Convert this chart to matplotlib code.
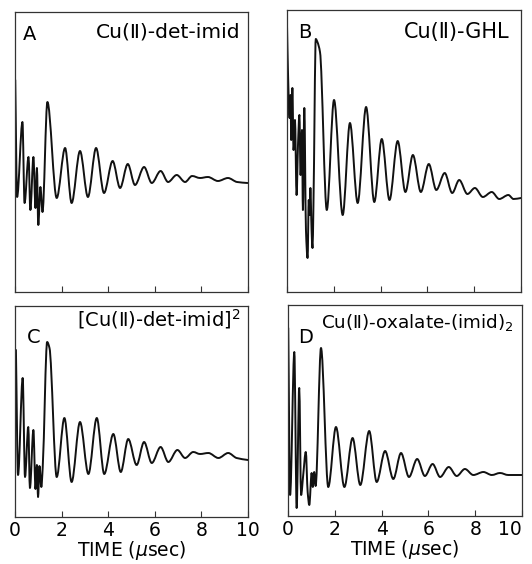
import numpy as np
import matplotlib
matplotlib.use("Agg")
import matplotlib.pyplot as plt
from matplotlib.path import Path
from matplotlib.patches import PathPatch

plt.rcParams['font.family'] = ['DejaVu Sans', 'Noto Sans CJK JP']

# ---- data (time in microseconds, echo amplitude in arbitrary units)
time_a = [0.01, 0.09, 0.32, 0.41, 0.58, 0.66, 0.79, 0.88, 0.94, 1.00, 1.09, 1.18, 1.39, 1.79,
          2.15, 2.43, 2.79, 3.13, 3.48, 3.82, 4.19, 4.51, 4.84, 5.15, 5.54, 5.87, 6.25, 6.57,
          6.94, 7.30, 7.60, 7.94, 8.28, 8.71, 9.14, 9.53, 9.98]
amp_a = [212, 95, 170, 89, 135, 82, 135, 84, 124, 67, 105, 80, 190, 94,
         144, 89, 141, 95, 144, 99, 131, 104, 128, 107, 125, 109, 121, 110,
         117, 110, 116, 114, 115, 111, 114, 110, 109]

time_b = [0.00, 0.04, 0.11, 0.15, 0.18, 0.23, 0.28, 0.34, 0.41, 0.47, 0.53, 0.58, 0.64, 0.68,
          0.74, 0.81, 0.88, 0.93, 0.96, 1.00, 1.05, 1.09, 1.13, 1.23, 1.30, 1.41, 1.70, 2.01,
          2.38, 2.69, 3.02, 3.38, 3.73, 4.05, 4.38, 4.73, 5.06, 5.38, 5.72, 6.06, 6.38, 6.74,
          7.06, 7.36, 7.71, 8.03, 8.37, 8.75, 9.07, 9.46, 9.68, 10.0]
amp_b = [267, 222, 174, 197, 152, 204, 142, 172, 97, 147, 177, 117, 162, 82,
         184, 62, 34, 92, 77, 104, 62, 44, 87, 253, 250, 240, 82, 192,
         77, 169, 89, 185, 90, 153, 92, 151, 100, 137, 100, 128, 102, 119,
         99, 112, 98, 104, 95, 100, 93, 97, 93, 94]

time_c = [0.04, 0.13, 0.33, 0.43, 0.57, 0.64, 0.79, 0.88, 0.94, 0.99, 1.05, 1.13, 1.19, 1.38,
          1.48, 1.79, 2.12, 2.43, 2.79, 3.15, 3.51, 3.83, 4.22, 4.54, 4.86, 5.22, 5.54, 5.87,
          6.25, 6.58, 6.97, 7.30, 7.65, 7.94, 8.30, 8.73, 9.15, 9.51, 10.0]
amp_c = [167, 42, 139, 40, 90, 29, 87, 28, 52, 20, 51, 30, 50, 175,
         169, 40, 99, 35, 95, 43, 99, 43, 83, 45, 78, 52, 75, 54,
         70, 55, 67, 59, 65, 63, 64, 59, 64, 59, 57]

time_d = [0.01, 0.09, 0.27, 0.37, 0.48, 0.56, 0.65, 0.76, 0.84, 0.91, 1.01, 1.06, 1.12, 1.18,
          1.41, 1.72, 2.05, 2.41, 2.76, 3.09, 3.47, 3.79, 4.15, 4.50, 4.83, 5.17, 5.52, 5.85,
          6.18, 6.50, 6.87, 7.21, 7.56, 7.92, 8.35, 8.71, 9.06, 9.41, 9.99]
amp_d = [188, 21, 164, 8, 128, 21, 41, 64, 24, 11, 43, 29, 44, 30,
         168, 29, 89, 29, 78, 31, 85, 34, 65, 37, 63, 39, 57, 40,
         52, 39, 49, 40, 47, 41, 44, 41, 43, 41, 41]

panel_letters = ["A", "B", "C", "D"]
panel_titles = ["Cu(Ⅱ)-det-imid", "Cu(Ⅱ)-GHL", "[Cu(Ⅱ)-det-imid]$^2$", "Cu(Ⅱ)-oxalate-(imid)$_2$"]
x_ticks = [0, 2, 4, 6, 8, 10]
x_tick_labels = ["0", "2", "4", "6", "8", "10"]
x_label = "TIME ($\\mu$sec)"


def smooth_path(t, s):
    """Monotone (PCHIP-style) cubic Bezier path through the read points."""
    x = np.asarray(t, float)
    y = np.asarray(s, float)
    n = len(x)
    h = np.diff(x)
    d = np.diff(y) / h
    m = np.zeros(n)
    m[0], m[-1] = d[0], d[-1]
    for i in range(1, n - 1):
        if d[i - 1] * d[i] > 0:
            w1 = 2 * h[i] + h[i - 1]
            w2 = h[i] + 2 * h[i - 1]
            m[i] = (w1 + w2) / (w1 / d[i - 1] + w2 / d[i])
        else:
            m[i] = 0.0
    verts = [(x[0], y[0])]
    codes = [Path.MOVETO]
    for i in range(n - 1):
        verts += [(x[i] + h[i] / 3, y[i] + m[i] * h[i] / 3),
                  (x[i + 1] - h[i] / 3, y[i + 1] - m[i + 1] * h[i] / 3),
                  (x[i + 1], y[i + 1])]
        codes += [Path.CURVE4] * 3
    return Path(verts, codes)


W, H = 532, 564
fig = plt.figure(figsize=(W / 100, H / 100), dpi=100)


def px_axes(x0, y0, x1, y1):
    return fig.add_axes([x0 / W, 1 - y1 / H, (x1 - x0) / W, (y1 - y0) / H])


axA = px_axes(15, 12, 248, 292)
axB = px_axes(287, 10, 521, 292)
axC = px_axes(15, 306, 248, 517)
axD = px_axes(288, 305, 522, 516)

series = [(axA, time_a, amp_a, 280), (axB, time_b, amp_b, 282),
          (axC, time_c, amp_c, 211), (axD, time_d, amp_d, 211)]

for k, (ax, t, s, ymax) in enumerate(series):
    ax.add_patch(PathPatch(smooth_path(t, s), fill=False, edgecolor="#111111",
                           lw=1.4, joinstyle="round", capstyle="round",
                           transform=ax.transData))
    ax.set_xlim(0, 10)
    ax.set_ylim(0, ymax)
    ax.set_yticks([])
    ax.set_xticks(x_ticks)
    ax.tick_params(axis="x", direction="in", length=4, width=0.8, color="#333333",
                   top=False, labelsize=13.5, pad=3)
    for sp in ax.spines.values():
        sp.set_linewidth(0.9)
        sp.set_color("#333333")
    if k < 2:
        ax.set_xticklabels([])
    else:
        ax.set_xticklabels(x_tick_labels)
        ax.set_xlabel(x_label, fontsize=13.5)
        ax.xaxis.set_label_coords(0.5, -0.105)

# keep the last tick label of panel D inside the picture
axD.get_xticklabels()[-1].set_horizontalalignment("right")
axD.get_xticklabels()[-1].set_x(10)

# panel letters and titles
fs_letter = 14
axA.text(0.035, 0.955, panel_letters[0], transform=axA.transAxes, fontsize=fs_letter, va="top", ha="left")
axA.text(0.966, 0.962, panel_titles[0], transform=axA.transAxes, fontsize=14.6, va="top", ha="right")
axB.text(0.047, 0.955, panel_letters[1], transform=axB.transAxes, fontsize=fs_letter, va="top", ha="left")
axB.text(0.949, 0.958, panel_titles[1], transform=axB.transAxes, fontsize=15, va="top", ha="right")
axC.text(0.05, 0.896, panel_letters[2], transform=axC.transAxes, fontsize=fs_letter, va="top", ha="left")
axC.text(0.97, 0.995, panel_titles[2], transform=axC.transAxes, fontsize=14, va="top", ha="right")
axD.text(0.043, 0.89, panel_letters[3], transform=axD.transAxes, fontsize=fs_letter, va="top", ha="left")
axD.text(0.966, 0.967, panel_titles[3], transform=axD.transAxes, fontsize=13.2, va="top", ha="right")

fig.savefig("out.png", dpi=100, facecolor="white")
